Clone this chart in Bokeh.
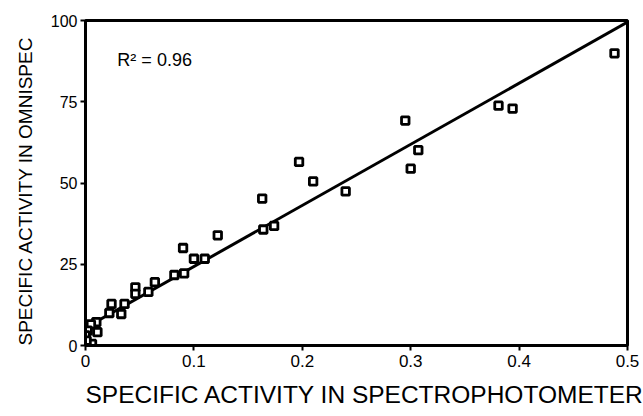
from bokeh.plotting import figure
from bokeh.models import Range1d, FixedTicker, Label, ColumnDataSource, Title
from bokeh.embed import file_html
from bokeh.resources import INLINE

# Data
spectro = [0.488, 0.381, 0.394, 0.295, 0.307, 0.300, 0.197, 0.210, 0.240, 0.163,
           0.164, 0.174, 0.122, 0.090, 0.100, 0.110, 0.091, 0.082, 0.064, 0.058,
           0.046, 0.046, 0.036, 0.024, 0.033, 0.022, 0.010, 0.005, 0.011, 0.002,
           0.000, 0.006, 0.001]
omnispec = [89.9, 73.8, 72.9, 69.2, 60.1, 54.4, 56.5, 50.5, 47.4, 45.2,
            35.7, 36.8, 33.9, 30.0, 26.7, 26.7, 22.2, 21.7, 19.5, 16.5,
            17.9, 15.9, 12.8, 12.8, 9.7, 10.0, 7.2, 6.5, 4.1, 4.6,
            3.1, 0.5, 1.5]

fit_intercept = 5.5
fit_slope = 188.0
fit_x = [0.0, 0.5]
fit_y = [fit_intercept + fit_slope * x for x in fit_x]

x_ticks = [0, 0.1, 0.2, 0.3, 0.4, 0.5]
x_tick_labels = ["0", "0.1", "0.2", "0.3", "0.4", "0.5"]
y_ticks = [0, 25, 50, 75, 100]
y_tick_labels = ["0", "25", "50", "75", "100"]

r2_text = "R\u00b2 = 0.96"
x_title = "SPECIFIC ACTIVITY IN SPECTROPHOTOMETER"
y_title = "SPECIFIC ACTIVITY IN OMNISPEC"

FONT = "Liberation Sans"

p = figure(width=643, height=416, output_backend="svg", toolbar_location=None,
           x_range=Range1d(0, 0.5), y_range=Range1d(0, 100),
           min_border_left=83, min_border_right=16, min_border_top=20,
           min_border_bottom=71)

p.xgrid.visible = False
p.ygrid.visible = False
p.outline_line_color = "black"
p.outline_line_width = 3
p.background_fill_color = "white"
p.border_fill_color = "white"

p.line(fit_x, fit_y, line_color="black", line_width=3)

src = ColumnDataSource(dict(x=spectro, y=omnispec))
p.scatter("x", "y", source=src, marker="square", size=7.5,
          fill_color="white", line_color="black", line_width=2.8)

p.xaxis.ticker = FixedTicker(ticks=x_ticks)
p.xaxis.major_label_overrides = {t: l for t, l in zip(x_ticks, x_tick_labels)}
p.yaxis.ticker = FixedTicker(ticks=y_ticks)
p.yaxis.major_label_overrides = {t: l for t, l in zip(y_ticks, y_tick_labels)}

for ax in (p.xaxis[0], p.yaxis[0]):
    ax.axis_line_width = 3
    ax.axis_line_color = "black"
    ax.major_tick_line_width = 2
    ax.major_tick_line_color = "black"
    ax.major_tick_in = 0
    ax.major_tick_out = 5
    ax.minor_tick_line_color = None
    ax.major_label_text_font = FONT
    ax.major_label_text_color = "black"

p.xaxis.major_label_text_font_size = "17px"
p.xaxis.major_label_standoff = 4
p.yaxis.major_label_text_font_size = "16px"
p.yaxis.major_label_standoff = 3

# axis titles as side titles, aligned to the start of the frame like the original
p.add_layout(Title(text=x_title, align="left", offset=0, standoff=18,
                   text_font=FONT, text_font_size="24.5px",
                   text_font_style="normal", text_color="black"), "below")
p.add_layout(Title(text=y_title, align="left", offset=0, standoff=24,
                   text_font=FONT, text_font_size="19px",
                   text_font_style="normal", text_color="black"), "left")

p.add_layout(Label(x=0.0294, y=87.7, text=r2_text, text_font=FONT,
                   text_font_size="18px", text_color="black",
                   text_baseline="alphabetic"))

open("out.html", "w").write(file_html(p, INLINE))
